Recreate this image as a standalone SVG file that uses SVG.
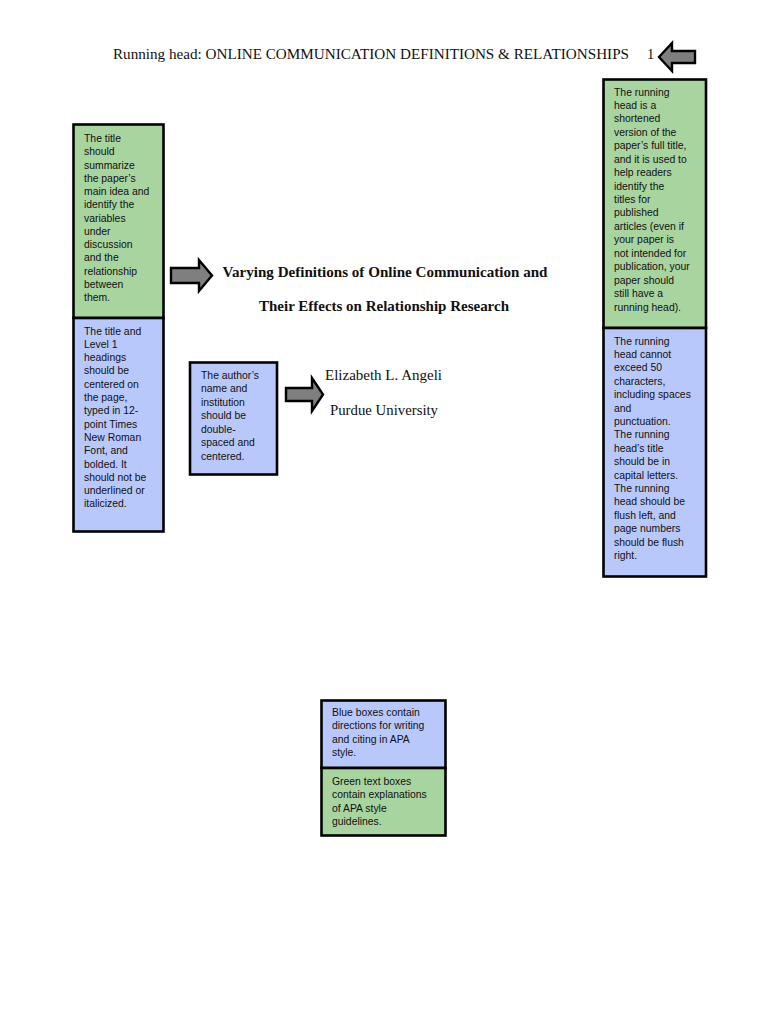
<svg xmlns="http://www.w3.org/2000/svg" width="768" height="1024" viewBox="0 0 768 1024">
<style>
.g{fill:#a8d4a0;stroke:#000;stroke-width:2.6}
.b{fill:#b9c8fa;stroke:#000;stroke-width:2.6}
.t{font-family:"Liberation Sans",Arial,sans-serif;font-size:10.4px;fill:#111}
.s{font-family:"Liberation Serif","Times New Roman",serif;fill:#111}
.ar{fill:#7f7f7f;stroke:#000;stroke-width:2.4;stroke-linejoin:miter}
</style>
<rect width="768" height="1024" fill="#fff"/>
<g id="header">
<text class="s" x="113" y="59" font-size="14.5" textLength="516" lengthAdjust="spacingAndGlyphs">Running head: ONLINE COMMUNICATION DEFINITIONS &amp; RELATIONSHIPS</text>
<text class="s" x="647" y="59" font-size="14.5">1</text>
</g>
<g id="title">
<text class="s" x="385" y="277" font-size="15" font-weight="bold" text-anchor="middle" textLength="325" lengthAdjust="spacingAndGlyphs">Varying Definitions of Online Communication and</text>
<text class="s" x="384" y="311" font-size="15" font-weight="bold" text-anchor="middle" textLength="250" lengthAdjust="spacingAndGlyphs">Their Effects on Relationship Research</text>
</g>
<g id="author">
<text class="s" x="383.5" y="380" font-size="14.5" text-anchor="middle" textLength="117" lengthAdjust="spacingAndGlyphs">Elizabeth L. Angeli</text>
<text class="s" x="384" y="415" font-size="14.5" text-anchor="middle" textLength="108" lengthAdjust="spacingAndGlyphs">Purdue University</text>
</g>
<g id="connectors">
<path class="ar" d="M659,57 L672,43 L672,51 L695,51 L695,63 L672,63 L672,71 Z"/>
<path class="ar" d="M171,268 L199,268 L199,260 L212,275.5 L199,291 L199,283 L171,283 Z"/>
<path class="ar" d="M286,388 L312,388 L312,378 L323,394.5 L312,411 L312,401 L286,401 Z"/>
</g>
<g id="title-note">
<rect class="g" x="73.5" y="124.5" width="90" height="193.5"/>
<text class="t"><tspan x="84" y="142">The title</tspan><tspan x="84" dy="13.25">should</tspan><tspan x="84" dy="13.25">summarize</tspan><tspan x="84" dy="13.25">the paper’s</tspan><tspan x="84" dy="13.25">main idea and</tspan><tspan x="84" dy="13.25">identify the</tspan><tspan x="84" dy="13.25">variables</tspan><tspan x="84" dy="13.25">under</tspan><tspan x="84" dy="13.25">discussion</tspan><tspan x="84" dy="13.25">and the</tspan><tspan x="84" dy="13.25">relationship</tspan><tspan x="84" dy="13.25">between</tspan><tspan x="84" dy="13.25">them.</tspan></text>
</g>
<g id="heading-note">
<rect class="b" x="73.5" y="318" width="90" height="213.5"/>
<text class="t"><tspan x="84" y="334.5">The title and</tspan><tspan x="84" dy="13.3">Level 1</tspan><tspan x="84" dy="13.3">headings</tspan><tspan x="84" dy="13.3">should be</tspan><tspan x="84" dy="13.3">centered on</tspan><tspan x="84" dy="13.3">the page,</tspan><tspan x="84" dy="13.3">typed in 12-</tspan><tspan x="84" dy="13.3">point Times</tspan><tspan x="84" dy="13.3">New Roman</tspan><tspan x="84" dy="13.3">Font, and</tspan><tspan x="84" dy="13.3">bolded. It</tspan><tspan x="84" dy="13.3">should not be</tspan><tspan x="84" dy="13.3">underlined or</tspan><tspan x="84" dy="13.3">italicized.</tspan></text>
</g>
<g id="author-note">
<rect class="b" x="190" y="362.5" width="87" height="112"/>
<text class="t"><tspan x="201" y="378.5">The author’s</tspan><tspan x="201" dy="13.5">name and</tspan><tspan x="201" dy="13.5">institution</tspan><tspan x="201" dy="13.5">should be</tspan><tspan x="201" dy="13.5">double-</tspan><tspan x="201" dy="13.5">spaced and</tspan><tspan x="201" dy="13.5">centered.</tspan></text>
</g>
<g id="running-head-note">
<rect class="g" x="603.5" y="79.5" width="102.5" height="248.5"/>
<text class="t"><tspan x="614" y="95.5">The running</tspan><tspan x="614" dy="13.44">head is a</tspan><tspan x="614" dy="13.44">shortened</tspan><tspan x="614" dy="13.44">version of the</tspan><tspan x="614" dy="13.44">paper’s full title,</tspan><tspan x="614" dy="13.44">and it is used to</tspan><tspan x="614" dy="13.44">help readers</tspan><tspan x="614" dy="13.44">identify the</tspan><tspan x="614" dy="13.44">titles for</tspan><tspan x="614" dy="13.44">published</tspan><tspan x="614" dy="13.44">articles (even if</tspan><tspan x="614" dy="13.44">your paper is</tspan><tspan x="614" dy="13.44">not intended for</tspan><tspan x="614" dy="13.44">publication, your</tspan><tspan x="614" dy="13.44">paper should</tspan><tspan x="614" dy="13.44">still have a</tspan><tspan x="614" dy="13.44">running head).</tspan></text>
</g>
<g id="running-head-rules">
<rect class="b" x="603.5" y="328" width="102.5" height="248.5"/>
<text class="t"><tspan x="614" y="344.5">The running</tspan><tspan x="614" dy="13.4">head cannot</tspan><tspan x="614" dy="13.4">exceed 50</tspan><tspan x="614" dy="13.4">characters,</tspan><tspan x="614" dy="13.4">including spaces</tspan><tspan x="614" dy="13.4">and</tspan><tspan x="614" dy="13.4">punctuation.</tspan><tspan x="614" dy="13.4">The running</tspan><tspan x="614" dy="13.4">head’s title</tspan><tspan x="614" dy="13.4">should be in</tspan><tspan x="614" dy="13.4">capital letters.</tspan><tspan x="614" dy="13.4">The running</tspan><tspan x="614" dy="13.4">head should be</tspan><tspan x="614" dy="13.4">flush left, and</tspan><tspan x="614" dy="13.4">page numbers</tspan><tspan x="614" dy="13.4">should be flush</tspan><tspan x="614" dy="13.4">right.</tspan></text>
</g>
<g id="legend-blue">
<rect class="b" x="321.5" y="700.5" width="124" height="67.5"/>
<text class="t"><tspan x="332" y="715.5">Blue boxes contain</tspan><tspan x="332" dy="13.6">directions for writing</tspan><tspan x="332" dy="13.6">and citing in APA</tspan><tspan x="332" dy="13.6">style.</tspan></text>
</g>
<g id="legend-green">
<rect class="g" x="321.5" y="768" width="124" height="67.5"/>
<text class="t"><tspan x="332" y="784.5">Green text boxes</tspan><tspan x="332" dy="13.6">contain explanations</tspan><tspan x="332" dy="13.6">of APA style</tspan><tspan x="332" dy="13.6">guidelines.</tspan></text>
</g>
</svg>
